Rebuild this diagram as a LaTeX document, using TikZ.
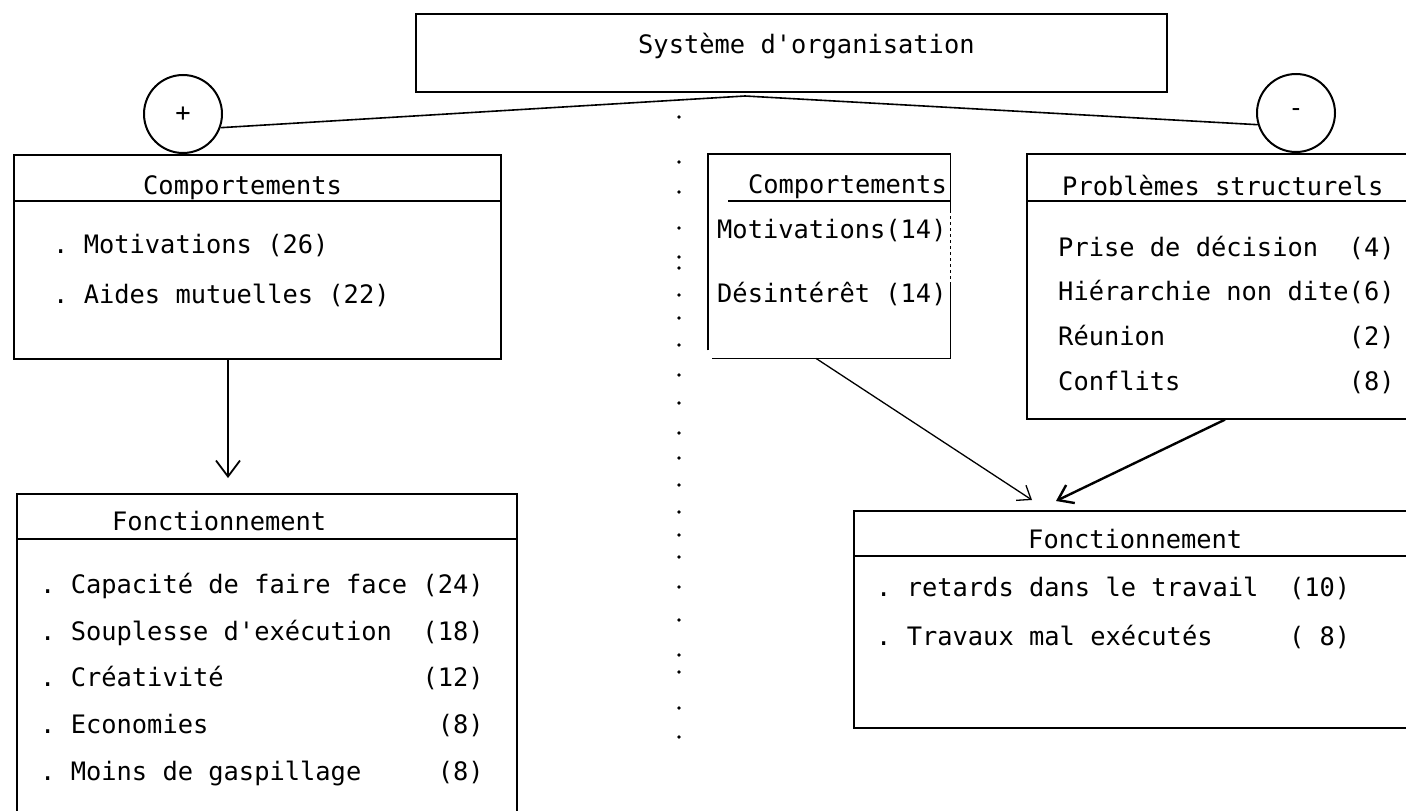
\documentclass[tikz,border=0pt]{standalone}
\usepackage{fontspec}
\setmonofont{DejaVu Sans Mono}
\usetikzlibrary{arrows.meta}

\begin{document}
\begin{tikzpicture}[x=1pt, y=-1pt,
    >={Straight Barb[length=16pt,width=24pt]},
    txt/.style={font=\ttfamily\fontsize{25.4}{30}\selectfont, inner sep=0pt, anchor=base west},
    panel/.style={draw, line width=1.6pt, anchor=north west, inner sep=0pt},
    sign/.style={draw, circle, line width=2pt, minimum size=78pt, inner sep=0pt,
        font=\ttfamily\fontsize{25.4}{30}\selectfont}]
    \useasboundingbox (0,0) rectangle (1406,811);
    \fill[white] (0,0) rectangle (1406,811);
    \clip (0,0) rectangle (1406,811);

    \node[panel, minimum width=751pt, minimum height=78pt] (systeme) at (415,13) {};
    \node[txt] (titre) at (638,53) {Système d'organisation};

    \node[sign] (plus) at (183,114) {+};
    \node[sign] (moins) at (1296,113) {-};
    \coordinate (fourche) at (745,96);
    \draw[line width=1.6pt] (plus.-20) -- (fourche) -- (moins.197);

    % cote positif
    \node[panel, minimum width=487pt, minimum height=204pt] (cpos) at (13,154) {};
    \draw[line width=1.6pt] ([yshift=-47pt]cpos.north west) -- ([yshift=-47pt]cpos.north east);
    \node[txt] (cposT) at (143,194) {Comportements};
    \node[txt] (cpos1) at (53,253) {. Motivations (26)};
    \node[txt] (cpos2) at (53,303) {. Aides mutuelles (22)};

    \node[panel, minimum width=500pt, minimum height=340pt] (fpos) at (16,493) {};
    \draw[line width=1.6pt] ([yshift=-46pt]fpos.north west) -- ([yshift=-46pt]fpos.north east);
    \node[txt] (fposT) at (112,530) {Fonctionnement};
    \node[txt] (fpos1) at (40,593) {. Capacité de faire face (24)};
    \node[txt] (fpos2) at (40,640) {. Souplesse d'exécution~~(18)};
    \node[txt] (fpos3) at (40,686) {. Créativité~~~~~~~~~~~~~(12)};
    \node[txt] (fpos4) at (40,733) {. Economies~~~~~~~~~~~~~~~(8)};
    \node[txt] (fpos5) at (40,780) {. Moins de gaspillage~~~~~(8)};

    \draw[->, line width=1.8pt] ([xshift=215pt]cpos.south west) -- ([xshift=212pt,yshift=15pt]fpos.north west);

    \foreach \y in {117,162,192,228,257,268,295,318,345,375,403,433,458,485,512,535,557,587,620,655,672,708,737}
        \fill (679,\y) circle (1.8pt);

    % cote negatif
    \node[minimum width=242pt, minimum height=204pt, anchor=north west, inner sep=0pt] (cneg) at (708,154) {};
    \draw[line width=1.6pt] ([yshift=8pt]cneg.south west) -- (cneg.north west) -- (cneg.north east) -- ++(0,56);
    \draw[line width=1.6pt] ([xshift=4pt]cneg.south west) -- (cneg.south east) -- ++(0,-75);
    \draw[line width=1pt, dashed] ([yshift=-56pt]cneg.north east) -- ([yshift=75pt]cneg.south east);
    \draw[line width=1.6pt] ([xshift=20pt,yshift=-47pt]cneg.north west) -- ([yshift=-47pt]cneg.north east);
    \node[txt, anchor=base east] (cnegT) at (947,193) {Comportements};
    \node[txt] (cneg1) at (717,238) {Motivations(14)};
    \node[txt] (cneg2) at (717,302) {Désintérêt (14)};

    \node[panel, minimum width=420pt, minimum height=265pt] (prob) at (1026,153) {};
    \draw[line width=1.6pt] ([yshift=-48pt]prob.north west) -- ([yshift=-48pt]prob.north east);
    \node[txt] (probT) at (1062,195) {Problèmes structurels};
    \node[txt] (prob1) at (1058,256) {Prise de décision~~(4)};
    \node[txt] (prob2) at (1058,300) {Hiérarchie non dite(6)};
    \node[txt] (prob3) at (1058,345) {Réunion~~~~~~~~~~~~(2)};
    \node[txt] (prob4) at (1058,390) {Conflits~~~~~~~~~~~(8)};

    \node[panel, minimum width=600pt, minimum height=217pt] (fneg) at (853,510) {};
    \draw[line width=1.6pt] ([yshift=-46pt]fneg.north west) -- ([yshift=-46pt]fneg.north east);
    \node[txt] (fnegT) at (1028,548) {Fonctionnement};
    \node[txt] (fneg1) at (876,596) {. retards dans le travail~~(10)};
    \node[txt] (fneg2) at (876,645) {. Travaux mal exécutés~~~~~(~8)};

    \draw[-{Straight Barb[length=12pt,width=18pt]}, line width=1.3pt]
        ([xshift=108pt]cneg.south west) -- ([xshift=179pt,yshift=10pt]fneg.north west);
    \draw[-{Straight Barb[length=14pt,width=20pt]}, line width=2.4pt]
        ([xshift=199pt]prob.south west) -- ([xshift=203pt,yshift=9pt]fneg.north west);
\end{tikzpicture}
\end{document}
